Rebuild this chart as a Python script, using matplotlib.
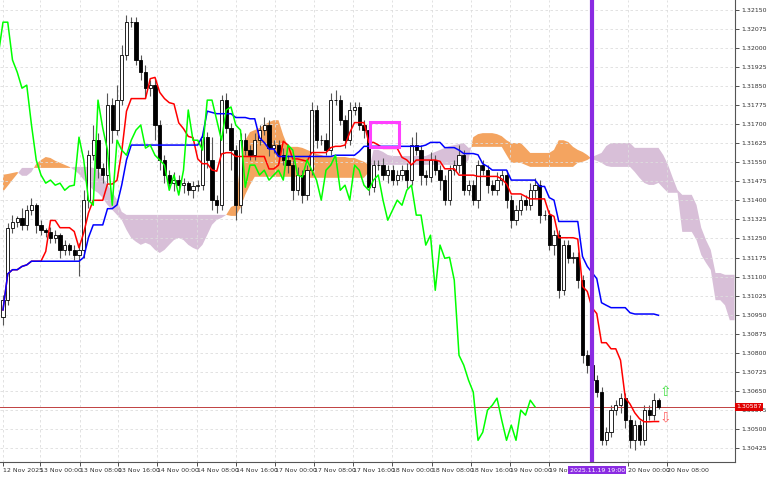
import numpy as np
import pandas as pd
import matplotlib
matplotlib.use("Agg")
import matplotlib.pyplot as plt
from matplotlib.patches import Rectangle

# H1 closes
closes = [
    1.31007, 1.31291, 1.31314, 1.31330, 1.31303, 1.31362, 1.31381, 1.31303, 1.31283, 1.31275,
    1.31251, 1.31263, 1.31204, 1.31224, 1.31204, 1.31184, 1.31204, 1.31401, 1.31578, 1.31637,
    1.31527, 1.31500, 1.31775, 1.31677, 1.31795, 1.31972, 1.32102, 1.32102, 1.31953, 1.31905,
    1.31842, 1.31854, 1.31697, 1.31559, 1.31500, 1.31468, 1.31480, 1.31460, 1.31468, 1.31440,
    1.31456, 1.31460, 1.31649, 1.31559, 1.31401, 1.31381, 1.31795, 1.31685, 1.31598, 1.31381,
    1.31637, 1.31598, 1.31578, 1.31637, 1.31677, 1.31697, 1.31606, 1.31618, 1.31578, 1.31559,
    1.31539, 1.31440, 1.31500, 1.31421, 1.31519, 1.31756, 1.31637, 1.31637, 1.31598, 1.31795,
    1.31795, 1.31716, 1.31637, 1.31756, 1.31768, 1.31697, 1.31677, 1.31452, 1.31539, 1.31539,
    1.31500, 1.31519, 1.31480, 1.31500, 1.31519, 1.31480, 1.31618, 1.31598, 1.31500, 1.31492,
    1.31559, 1.31519, 1.31480, 1.31401, 1.31519, 1.31539, 1.31578, 1.31440, 1.31460, 1.31401,
    1.31539, 1.31519, 1.31460, 1.31440, 1.31480, 1.31500, 1.31401, 1.31322, 1.31362, 1.31401,
    1.31381, 1.31440, 1.31460, 1.31342, 1.31342, 1.31224, 1.31263, 1.31046, 1.31224, 1.31172,
    1.31176, 1.31086, 1.30790, 1.30751, 1.30692, 1.30645, 1.30455, 1.30487, 1.30574, 1.30593,
    1.30621, 1.30534, 1.30455, 1.30515, 1.30455, 1.30574, 1.30554, 1.30613, 1.30587,
]
first_open = 1.30940
# wick lengths in pips (0.0001)
wick_up = [
    2, 2, 3, 1, 4, 2, 3, 1, 2, 1, 2, 2, 1, 2, 1, 2, 3, 4, 2, 6,
    3, 2, 5, 3, 6, 4, 3, 2, 2, 2, 3, 2, 3, 2, 2, 2, 3, 2, 2, 1,
    2, 2, 3, 2, 9, 2, 2, 3, 2, 2, 3, 3, 2, 3, 2, 3, 2, 2, 2, 3,
    2, 2, 3, 2, 2, 3, 2, 2, 3, 3, 4, 2, 2, 3, 2, 2, 2, 2, 2, 2,
    3, 2, 2, 2, 2, 3, 3, 5, 2, 2, 3, 2, 2, 2, 2, 2, 4, 2, 2, 2,
    2, 2, 2, 2, 3, 2, 2, 2, 2, 2, 2, 3, 3, 2, 2, 2, 2, 2, 2, 2,
    2, 2, 2, 2, 2, 2, 2, 2, 2, 2, 2, 2, 2, 2, 2, 2, 2, 3, 1,
]
wick_dn = [
    3, 2, 2, 2, 2, 2, 2, 3, 2, 2, 2, 2, 3, 2, 2, 2, 8, 3, 3, 2,
    4, 3, 3, 5, 2, 2, 2, 2, 2, 3, 4, 3, 6, 4, 3, 2, 3, 2, 3, 2,
    3, 2, 2, 3, 4, 3, 2, 2, 8, 6, 3, 2, 2, 2, 2, 2, 3, 2, 3, 2,
    3, 4, 2, 3, 2, 2, 3, 2, 2, 2, 2, 2, 3, 2, 2, 2, 3, 3, 2, 2,
    2, 3, 2, 2, 2, 3, 2, 2, 4, 3, 2, 2, 4, 2, 2, 2, 3, 2, 2, 2,
    3, 2, 3, 2, 2, 2, 3, 3, 2, 2, 2, 2, 3, 3, 2, 2, 4, 3, 2, 2,
    2, 3, 3, 3, 2, 2, 2, 2, 2, 2, 3, 3, 3, 4, 2, 2, 2, 2, 1,
]
# Senkou spans as drawn on the visible window (one value per bar slot)
span_a = [
    1.31501, 1.31504, 1.31508, 1.31512, 1.31497, 1.31497, 1.31512, 1.31544, 1.31559, 1.31571,
    1.31567, 1.31556, 1.31548, 1.31540, 1.31532, 1.31520, 1.31504, 1.31481, 1.31461, 1.31441,
    1.31430, 1.31410, 1.31382, 1.31363, 1.31343, 1.31323, 1.31284, 1.31252, 1.31237, 1.31225,
    1.31233, 1.31225, 1.31205, 1.31193, 1.31205, 1.31225, 1.31244, 1.31252, 1.31244, 1.31225,
    1.31213, 1.31205, 1.31225, 1.31264, 1.31304, 1.31323, 1.31331, 1.31343, 1.31374, 1.31382,
    1.31559, 1.31637, 1.31669, 1.31677, 1.31685, 1.31697, 1.31708, 1.31716, 1.31716, 1.31657,
    1.31611, 1.31611, 1.31611, 1.31607, 1.31599, 1.31591, 1.31583, 1.31579, 1.31571, 1.31571,
    1.31571, 1.31571, 1.31571, 1.31567, 1.31567, 1.31559, 1.31552, 1.31540, 1.31540, 1.31540,
    1.31540, 1.31540, 1.31540, 1.31540, 1.31540, 1.31540, 1.31540, 1.31540, 1.31540, 1.31540,
    1.31540, 1.31540, 1.31540, 1.31540, 1.31540, 1.31540, 1.31540, 1.31540, 1.31559, 1.31649,
    1.31661, 1.31665, 1.31665, 1.31665, 1.31661, 1.31653, 1.31637, 1.31626, 1.31626, 1.31626,
    1.31607, 1.31587, 1.31587, 1.31587, 1.31587, 1.31587, 1.31599, 1.31637, 1.31637, 1.31630,
    1.31611, 1.31599, 1.31591, 1.31579, 1.31563, 1.31556, 1.31548, 1.31536, 1.31532, 1.31532,
    1.31532, 1.31532, 1.31532, 1.31512, 1.31489, 1.31469, 1.31461, 1.31461, 1.31469, 1.31449,
    1.31430, 1.31430, 1.31430, 1.31276, 1.31276, 1.31276, 1.31244, 1.31185, 1.31154, 1.31126,
    1.31007, 1.31007, 1.30987, 1.30928, 1.30928,
]
span_b = [
    1.31434, 1.31457, 1.31481, 1.31504, 1.31528, 1.31528, 1.31528, 1.31528, 1.31528, 1.31528,
    1.31528, 1.31528, 1.31528, 1.31528, 1.31528, 1.31532, 1.31532, 1.31532, 1.31532, 1.31528,
    1.31520, 1.31489, 1.31461, 1.31434, 1.31402, 1.31355, 1.31343, 1.31343, 1.31343, 1.31343,
    1.31343, 1.31343, 1.31343, 1.31343, 1.31343, 1.31343, 1.31343, 1.31343, 1.31343, 1.31343,
    1.31343, 1.31343, 1.31343, 1.31343, 1.31343, 1.31343, 1.31343, 1.31343, 1.31339, 1.31339,
    1.31371, 1.31422, 1.31461, 1.31493, 1.31493, 1.31493, 1.31493, 1.31493, 1.31493, 1.31493,
    1.31493, 1.31493, 1.31493, 1.31493, 1.31489, 1.31489, 1.31489, 1.31489, 1.31489, 1.31489,
    1.31489, 1.31489, 1.31489, 1.31489, 1.31489, 1.31489, 1.31489, 1.31512, 1.31599, 1.31599,
    1.31591, 1.31579, 1.31575, 1.31575, 1.31575, 1.31575, 1.31575, 1.31575, 1.31575, 1.31575,
    1.31583, 1.31591, 1.31599, 1.31607, 1.31614, 1.31618, 1.31622, 1.31626, 1.31607, 1.31611,
    1.31611, 1.31611, 1.31611, 1.31611, 1.31611, 1.31611, 1.31579, 1.31548, 1.31548, 1.31548,
    1.31540, 1.31532, 1.31532, 1.31532, 1.31532, 1.31532, 1.31532, 1.31532, 1.31532, 1.31532,
    1.31532, 1.31548, 1.31552, 1.31559, 1.31571, 1.31579, 1.31587, 1.31614, 1.31626, 1.31626,
    1.31626, 1.31626, 1.31626, 1.31607, 1.31607, 1.31607, 1.31607, 1.31607, 1.31607, 1.31579,
    1.31540, 1.31489, 1.31441, 1.31422, 1.31422, 1.31422, 1.31382, 1.31292, 1.31244, 1.31205,
    1.31114, 1.31114, 1.31107, 1.31107, 1.31107,
]
tick_pos = [0, 7.8, 16.2, 24.2, 32.4, 40.8, 49.1, 57.3, 65.5, 73.7, 81.9, 90.3, 98.5, 106.7, 115.0, 131.6, 139.8]
tick_labels = ["12 Nov 2025", "13 Nov 00:00", "13 Nov 08:00", "13 Nov 16:00", "14 Nov 00:00",
               "14 Nov 08:00", "14 Nov 16:00", "17 Nov 00:00", "17 Nov 08:00", "17 Nov 16:00",
               "18 Nov 00:00", "18 Nov 08:00", "18 Nov 16:00", "19 Nov 00:00", "19 Nov 08:00",
               "20 Nov 00:00", "20 Nov 08:00"]
cursor_idx = 123.9
cursor_label = "2025.11.19 19:00"
last_price = 1.30587

c = np.array(closes)
o = np.concatenate([[first_open], c[:-1]])
h = np.maximum(o, c) + np.array(wick_up) * 0.0001
l = np.minimum(o, c) - np.array(wick_dn) * 0.0001
n = len(c)
idx = np.arange(n)

hs, ls = pd.Series(h), pd.Series(l)
tenkan = (hs.rolling(9, min_periods=1).max() + ls.rolling(9, min_periods=1).min()) / 2
kijun = (hs.rolling(26, min_periods=1).max() + ls.rolling(26, min_periods=1).min()) / 2

sa, sb = np.array(span_a), np.array(span_b)
cloud_x = np.arange(len(sa))

fig = plt.figure(figsize=(7.68, 4.8), dpi=100)
ax = fig.add_axes([0, 18 / 480, 735 / 768, 462 / 480])
ax.set_xlim(-0.63, 154.1)
ax.set_ylim(1.303696, 1.321894)

ax.fill_between(cloud_x, sa, sb, where=sa >= sb, color="#F4A460", lw=0, interpolate=True, zorder=1)
ax.fill_between(cloud_x, sa, sb, where=sa < sb, color="#D8BFD8", lw=0, interpolate=True, zorder=1)

for i in range(n):
    ax.vlines(i, l[i], h[i], color="#555555", lw=0.8, zorder=2)
    up = c[i] >= o[i]
    lo, hi = min(o[i], c[i]), max(o[i], c[i])
    ax.add_patch(Rectangle((i - 0.32, lo), 0.64, max(hi - lo, 0.00002),
                           facecolor="white" if up else "black", edgecolor="black", lw=0.6, zorder=3))

ax.plot(idx, tenkan, color="#FF0000", lw=1.1, zorder=4)
ax.plot(idx, kijun, color="#0000FF", lw=1.1, zorder=4)
ax.plot(idx - 26, c, color="#00FF00", lw=1.1, zorder=4)

ax.axhline(last_price, color="#C04040", lw=0.7, zorder=2)
ax.axvline(cursor_idx, color="#8A2BE2", lw=3, zorder=5)
ax.add_patch(Rectangle((77.2, 1.31611), 6.2, 0.00098, fill=False, edgecolor="#FF40FF", lw=2.2, zorder=6))
ax.text(139.5, 1.30645, "\u21e7", color="#40E040", fontsize=10, ha="center", va="center", zorder=6)
ax.text(139.5, 1.30545, "\u21e9", color="#FF6060", fontsize=10, ha="center", va="center", zorder=6)

yt = np.arange(1.30425, 1.32151, 0.00075)
ax.set_yticks(yt)
ax.set_yticklabels([f"{v:.5f}" for v in yt], fontsize=4.5)
ax.yaxis.tick_right()
ax.set_xticks(tick_pos)
ax.set_xticklabels(tick_labels, fontsize=4.5, ha="left")
ax.tick_params(length=3, width=0.6, pad=1.5, colors="#333333")
ax.grid(True, color="#DDDDDD", ls=(0, (3, 3)), lw=0.6)
for s in ["top", "left"]:
    ax.spines[s].set_visible(False)
ax.spines["right"].set_color("#555555")
ax.spines["bottom"].set_color("#555555")

ax.text(1.002, last_price, f"{last_price:.5f}", transform=ax.get_yaxis_transform(), fontsize=4.5,
        color="white", va="center", ha="left", bbox=dict(facecolor="#E00000", edgecolor="none", pad=1))
ax.text(cursor_idx - 4.6, -0.012, cursor_label, transform=ax.get_xaxis_transform(), fontsize=4.5,
        color="white", va="top", ha="left", zorder=10,
        bbox=dict(facecolor="#8A2BE2", edgecolor="none", pad=1))

fig.savefig("out.png", dpi=100)
